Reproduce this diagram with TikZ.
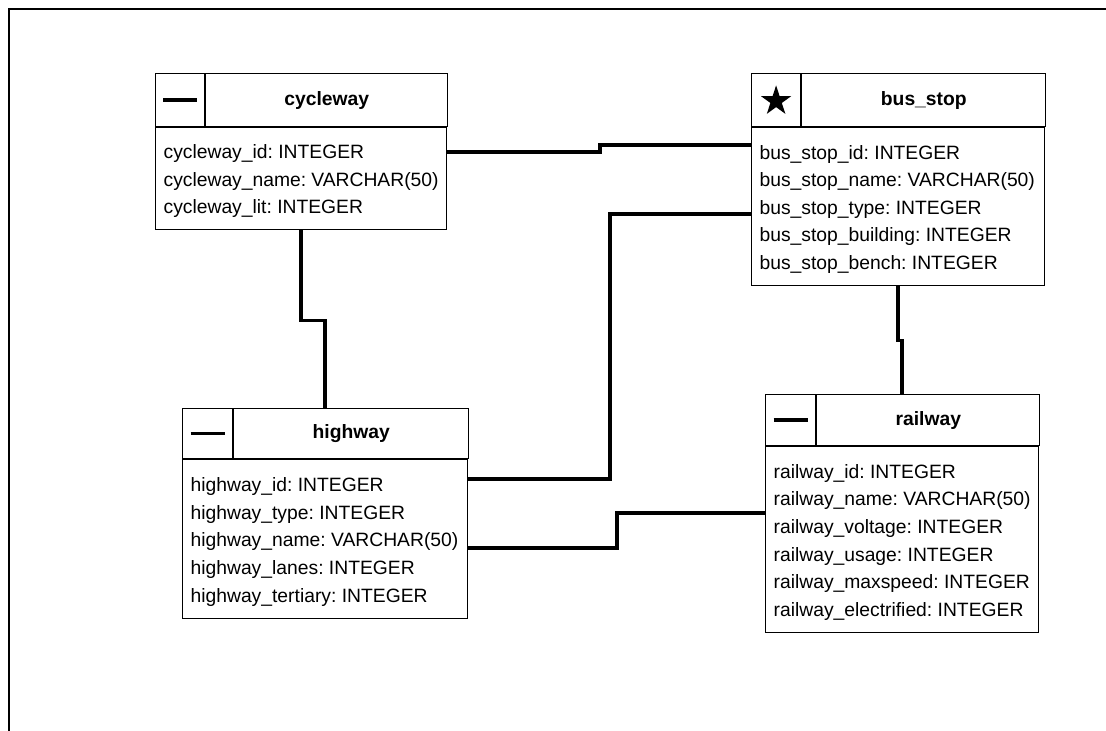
\documentclass[tikz,border=0pt]{standalone}
\usepackage{fontspec}
\setmainfont{Liberation Sans}
\usetikzlibrary{positioning,shapes.geometric}

\begin{document}
\begin{tikzpicture}[
    x=1pt, y=-1pt,
    font=\fontsize{19.3pt}{27.6pt}\selectfont\frenchspacing,
    cell/.style={draw, line width=1.2pt, inner sep=0pt},
    tabicon/.style={cell, anchor=north west, minimum width=49pt, minimum height=53pt},
    tabtitle/.style={cell, font=\fontsize{19.3pt}{27.6pt}\selectfont\bfseries},
    tabfields/.style={cell, anchor=north west, align=flush left, inner xsep=8pt,
        font={\fontsize{19.3pt}{27.6pt}\selectfont\frenchspacing\hyphenpenalty 10000\relax},
        execute at begin node={\rule{0pt}{19pt}}},
    relline/.style={line width=3.5pt}
]
\useasboundingbox (0,0) rectangle (1106,731);
% page frame
\draw[line width=2pt] (9,731) -- (9,9) -- (1106,9);

% cycleway
\node[tabicon] (cyclewayI) at (155,73) {\rule{34pt}{3.6pt}};
\node[tabtitle, right=0pt of cyclewayI, minimum width=242pt, minimum height=53pt] (cyclewayT) {cycleway};
\node[tabfields, text width=275pt, minimum height=102pt] (cyclewayB) at (cyclewayI.south west) {cycleway\_id:\nobreakspace INTEGER\\ cycleway\_name:\nobreakspace VARCHAR(50)\\ cycleway\_lit:\nobreakspace INTEGER};

% bus_stop
\node[tabicon] (busstopI) at (751,73) {};
\node[star, star points=5, star point ratio=2.618, fill=black, inner sep=0pt, minimum size=31.5pt] (busstopS) at ([yshift=-1pt]busstopI.center) {};
\node[tabtitle, right=0pt of busstopI, minimum width=244pt, minimum height=53pt] (busstopT) {bus\_stop};
\node[tabfields, text width=277pt, minimum height=158pt] (busstopB) at (busstopI.south west) {bus\_stop\_id:\nobreakspace INTEGER\\ bus\_stop\_name:\nobreakspace VARCHAR(50)\\ bus\_stop\_type:\nobreakspace INTEGER\\ bus\_stop\_building:\nobreakspace INTEGER\\ bus\_stop\_bench:\nobreakspace INTEGER};

% highway
\node[tabicon, minimum width=50pt, minimum height=50pt] (highwayI) at (182,408) {\rule{34pt}{3.6pt}};
\node[tabtitle, right=0pt of highwayI, minimum width=235pt, minimum height=50pt] (highwayT) {highway};
\node[tabfields, text width=269pt, minimum height=159pt] (highwayB) at (highwayI.south west) {highway\_id:\nobreakspace INTEGER\\ highway\_type:\nobreakspace INTEGER\\ highway\_name:\nobreakspace VARCHAR(50)\\ highway\_lanes:\nobreakspace INTEGER\\ highway\_tertiary:\nobreakspace INTEGER};

% railway
\node[tabicon, minimum width=50pt, minimum height=51pt] (railwayI) at (765,394) {\rule{34pt}{3.6pt}};
\node[tabtitle, right=0pt of railwayI, minimum width=223pt, minimum height=51pt] (railwayT) {railway};
\node[tabfields, text width=257pt, minimum height=186pt] (railwayB) at (railwayI.south west) {railway\_id:\nobreakspace INTEGER\\ railway\_name:\nobreakspace VARCHAR(50)\\ railway\_voltage:\nobreakspace INTEGER\\ railway\_usage:\nobreakspace INTEGER\\ railway\_maxspeed:\nobreakspace INTEGER\\ railway\_electrified:\nobreakspace INTEGER};

% relations
\draw[relline] ([yshift=-25pt]cyclewayB.north east) -- ++(153,0) |- ([yshift=-18pt]busstopB.north west);
\draw[relline] (cyclewayB.south) -- ++(0,90) -| (highwayT.north -| highwayB.north);
\draw[relline] ([yshift=-20pt]highwayB.north east) -- ++(142,0) |- ([yshift=-87pt]busstopB.north west);
\draw[relline] ([yshift=-89pt]highwayB.north east) -- ++(149,0) |- ([yshift=-67pt]railwayB.north west);
\draw[relline] (busstopB.south) -- ++(0,54) -| (railwayT.north -| railwayB.north);
\end{tikzpicture}
\end{document}
